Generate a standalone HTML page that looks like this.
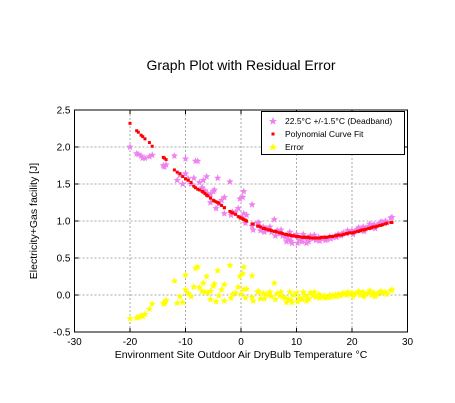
<!DOCTYPE html>
<html><head><meta charset="utf-8"><style>
body{margin:0;background:#fff;}
svg{display:block;font-family:"Liberation Sans",sans-serif;}
</style></head><body>
<svg id="chart" width="455" height="403">
<rect width="455" height="403" fill="#fff"/>
<text x="241" y="70" font-size="14" text-anchor="middle">Graph Plot with Residual Error</text>
<g id="grid"></g>
<g id="marks"></g>
<rect x="74.5" y="110" width="333" height="222" fill="none" stroke="#000" stroke-width="1"/>
<g id="axes"></g>
<text x="241" y="358" font-size="10.5" text-anchor="middle">Environment Site Outdoor Air DryBulb Temperature °C</text>
<text transform="translate(37,221) rotate(-90)" font-size="10.5" text-anchor="middle">Electricity+Gas facility [J]</text>
<g>
<rect x="261.5" y="111.5" width="143" height="43" fill="#fff" stroke="#000"/>
<polygon fill="violet" points="273,117 274.2,120 277,120 274.8,121.8 275.6,124.6 273,123 270.4,124.6 271.2,121.8 269,120 271.8,120"/>
<text x="285" y="124" font-size="8.5">22.5°C +/-1.5°C (Deadband)</text>
<rect x="271.5" y="132.5" width="3" height="3" fill="red"/>
<text x="285" y="137" font-size="8.5">Polynomial Curve Fit</text>
<polygon fill="yellow" points="273,143 274.2,146 277,146 274.8,147.8 275.6,150.6 273,149 270.4,150.6 271.2,147.8 269,146 271.8,146"/>
<text x="285" y="150" font-size="8.5">Error</text>
</g>
</svg>
<script>
const temps=[-20,-18.8,-18.5,-18,-17.7,-17.3,-16.5,-16,-14,-13.8,-13.5,-12,-11.5,-11,-10.5,-10,-10,-9.5,-9,-8.5,-8.2,-7.8,-7.5,-7,-6.8,-6.5,-6.2,-6,-5.5,-5.5,-5,-4.8,-4.5,-4.2,-4,-3.5,-3,-3,-2,-1.8,-1.5,-1,-0.5,-0.2,0,0.3,0.5,0.5,0.8,1,2,2,2.2,3,3.5,4,4.5,5,5.5,6,6.5,7,7.5,8,8.5,9,9.5,10,10.5,11,11.5,12,12.5,13,13.5,14,14.5,15,15.5,16,16.5,17,17.5,18,18.5,19,19.5,20,20.5,21,21.5,22,22.5,23,23.5,24,24.5,25,25.5,26,27,27.2,
3.2,4.2,5.2,6.2,7.2,8.2,8.8,9.2,10.2,11.2,11.8,12.2,13.2,14.2,15.2,16.2,17.2,18.2,19.2,20.2,21.2,22.2,23.2,24.2,25.2,26.3,23.8,21.8];
const load=[2.0,1.91,1.90,1.88,1.85,1.85,1.87,1.89,1.75,1.73,1.76,1.88,1.55,1.62,1.50,1.64,1.84,1.57,1.50,1.58,1.81,1.81,1.52,1.45,1.55,1.41,1.60,1.37,1.36,1.25,1.40,1.42,1.17,1.58,1.23,1.28,1.32,1.10,1.53,1.08,1.12,1.12,1.17,1.30,1.05,1.32,1.40,1.10,0.97,1.08,1.22,0.93,0.88,0.97,0.87,0.92,0.90,0.88,0.85,1.02,0.87,0.83,0.80,0.78,0.75,0.73,0.80,0.82,0.75,0.72,0.78,0.74,0.80,0.76,0.74,0.78,0.76,0.77,0.75,0.79,0.78,0.80,0.82,0.80,0.84,0.83,0.85,0.87,0.86,0.89,0.87,0.92,0.90,0.93,0.91,0.95,0.94,0.97,0.98,1.00,1.04,1.05,
0.98,0.85,0.92,0.80,0.88,0.72,0.85,0.70,0.70,0.82,0.70,0.72,0.81,0.73,0.74,0.76,0.78,0.83,0.87,0.82,0.91,0.86,0.96,0.90,0.99,0.98,0.94,0.90];
const fitted=[2.32,2.22,2.20,2.16,2.14,2.11,2.06,2.01,1.86,1.85,1.83,1.69,1.66,1.64,1.60,1.57,1.57,1.55,1.52,1.47,1.45,1.43,1.42,1.40,1.39,1.37,1.35,1.34,1.31,1.31,1.28,1.27,1.26,1.25,1.24,1.21,1.18,1.18,1.13,1.12,1.11,1.09,1.06,1.05,1.04,1.03,1.02,1.02,1.01,1.00,0.96,0.96,0.96,0.93,0.92,0.90,0.89,0.88,0.87,0.86,0.85,0.84,0.83,0.82,0.81,0.80,0.80,0.79,0.79,0.78,0.78,0.78,0.77,0.77,0.77,0.77,0.78,0.78,0.78,0.79,0.79,0.80,0.81,0.81,0.82,0.83,0.84,0.84,0.85,0.86,0.87,0.88,0.89,0.90,0.91,0.92,0.93,0.94,0.95,0.96,0.98,0.98,
0.93,0.90,0.88,0.86,0.84,0.82,0.81,0.80,0.79,0.78,0.78,0.78,0.77,0.77,0.78,0.79,0.80,0.81,0.83,0.84,0.86,0.88,0.90,0.92,0.94,0.97,0.92,0.88];
const xTicks=[-30,-20,-10,0,10,20,30];
const yTicks=[-0.5,0.0,0.5,1.0,1.5,2.0,2.5];
const NS='http://www.w3.org/2000/svg';
const X0=74.5,X1=407.5,Y0=332,Y1=110;
function xs(v){return X0+(v+30)/60*(X1-X0);}
function ys(v){return Y0-(v+0.5)/3*(Y0-Y1);}
function mk(tag,at,parent){const e=document.createElementNS(NS,tag);for(const k in at)e.setAttribute(k,at[k]);parent.appendChild(e);return e;}
const grid=document.getElementById('grid'),axes=document.getElementById('axes'),marks=document.getElementById('marks');
xTicks.forEach(t=>{const x=xs(t);
 if(t>-30&&t<30){const g=mk('line',{x1:x,x2:x,y1:Y1,y2:Y0,stroke:'#aaa','stroke-dasharray':'2,2'},grid);
 
 }
 const l=mk('text',{x:x,y:Y0+13,'font-size':10,'text-anchor':'middle'},axes);l.textContent=t;
 
 
 mk('line',{x1:x,x2:x,y1:Y0,y2:Y0-4,stroke:'#000'},axes);mk('line',{x1:x,x2:x,y1:Y1,y2:Y1+4,stroke:'#000'},axes);});
yTicks.forEach(t=>{const y=ys(t);
 if(t>-0.5&&t<2.5){const g=mk('line',{x1:X0,x2:X1,y1:y,y2:y,stroke:'#aaa','stroke-dasharray':'2,2'},grid);
 
 }
 const l=mk('text',{x:X0-4,y:y+3.5,'font-size':10,'text-anchor':'end'},axes);l.textContent=t.toFixed(1);
 
 
 mk('line',{x1:X0,x2:X0+4,y1:y,y2:y,stroke:'#000'},axes);mk('line',{x1:X1,x2:X1-4,y1:y,y2:y,stroke:'#000'},axes);});
function star(cx,cy,r,fill,name){const p=[];for(let i=0;i<10;i++){const rr=i%2?r*0.45:r;const a=-Math.PI/2+i*Math.PI/5;p.push((cx+rr*Math.cos(a)).toFixed(1)+','+(cy+rr*Math.sin(a)).toFixed(1));}
 const e=mk('polygon',{points:p.join(' '),fill:fill},marks);
 
 }
temps.forEach((t,i)=>star(xs(t),ys(load[i]),3.8,'violet','deadband-point'));
temps.forEach((t,i)=>star(xs(t),ys(load[i]-fitted[i]),3.8,'yellow','error-point'));
temps.forEach((t,i)=>{const e=mk('rect',{x:xs(t)-1.5,y:ys(fitted[i])-1.5,width:3,height:3,fill:'red'},marks);
 
 });
</script>
</body></html>
